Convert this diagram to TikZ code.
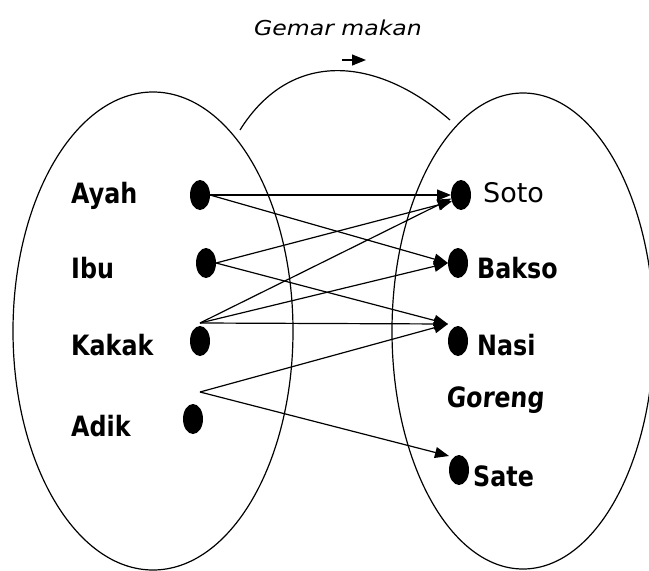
\documentclass[tikz,border=0pt]{standalone}
\usepackage{fontspec}
\usetikzlibrary{arrows.meta,shapes.geometric}
\newfontfamily\lblfont[FakeStretch=0.85]{DejaVu Sans}
\newfontfamily\gorengfont[FakeStretch=0.85,FakeSlant=0.08]{DejaVu Sans}
\newfontfamily\sotofont{DejaVu Sans}
\newfontfamily\gemarfont[FakeStretch=1.15]{DejaVu Sans}
\begin{document}
\begin{tikzpicture}[x=1pt,y=-1pt,
  setline/.style={line width=1.2pt},
  dot/.style={ellipse, fill=black, inner sep=0pt, outer sep=0pt, minimum width=20pt, minimum height=30pt},
  lbl/.style={anchor=base west, inner sep=0pt, font=\lblfont\bfseries\fontsize{28}{30}\selectfont},
  rel/.style={line width=1.2pt, -{Triangle[length=14pt,width=11pt]}}]
\useasboundingbox (0,0) rectangle (649,571);
\clip (0,0) rectangle (649,571);
% sets
\draw[setline] (153,331) ellipse [x radius=140pt, y radius=239pt];
\draw[setline] (523,331) ellipse [x radius=131pt, y radius=238pt];
% title arc
\coordinate (arcL) at (240,130);
\coordinate (arcR) at (450,120);
\draw[setline] (arcL) .. controls (290,50) and (375,55) .. (arcR);
\coordinate (sa) at (342,60);
\coordinate (sb) at (366,60);
\draw[rel] (sa) -- (sb);
\node[font=\gemarfont\itshape\fontsize{20.5}{22}\selectfont, anchor=base, inner sep=0pt] (gm) at (338,35) {Gemar makan};
% domain
\node[dot] (ayah) at (200,195) {};
\node[dot] (ibu) at (206,263) {};
\node[dot] (kakak) at (200,341) {};
\node[dot] (adik) at (193,419) {};
\node[lbl] (tAyah) at (71,203) {Ayah};
\node[lbl] (tIbu) at (71,278) {Ibu};
\node[lbl] (tKakak) at (71,355) {Kakak};
\node[lbl] (tAdik) at (71,436) {Adik};
% codomain
\node[dot] (soto) at (461,195) {};
\node[dot] (bakso) at (458,263) {};
\node[dot] (nasi) at (458,341) {};
\node[dot] (sate) at (459,470) {};
\node[anchor=base west, inner sep=0pt, font=\sotofont\fontsize{27}{29}\selectfont] (tSoto) at (483,202) {Soto};
\node[lbl] (tBakso) at (477,278) {Bakso};
\node[lbl] (tNasi) at (477,355) {Nasi};
\node[lbl, font=\gorengfont\bfseries\fontsize{28}{30}\selectfont] (tGoreng) at (446,407) {Goreng};
\node[lbl] (tSate) at (473,486) {Sate};
% connector ends
\coordinate (kk) at (200,323);
\coordinate (ad) at (200,392);
\coordinate (nasiin) at (448,324);
\coordinate (satein) at (449,456);
% relations
\draw[rel] (ayah.east) -- (soto.west);
\draw[rel] (ayah.east) -- (bakso.west);
\draw[rel] (ibu.east) -- (soto.215);
\draw[rel] (ibu.east) -- (nasiin);
\draw[rel] (kk) -- (soto.200);
\draw[rel] (kk) -- (bakso.west);
\draw[rel] (kk) -- (nasiin);
\draw[rel] (ad) -- (nasiin);
\draw[rel] (ad) -- (satein);
\end{tikzpicture}
\end{document}
